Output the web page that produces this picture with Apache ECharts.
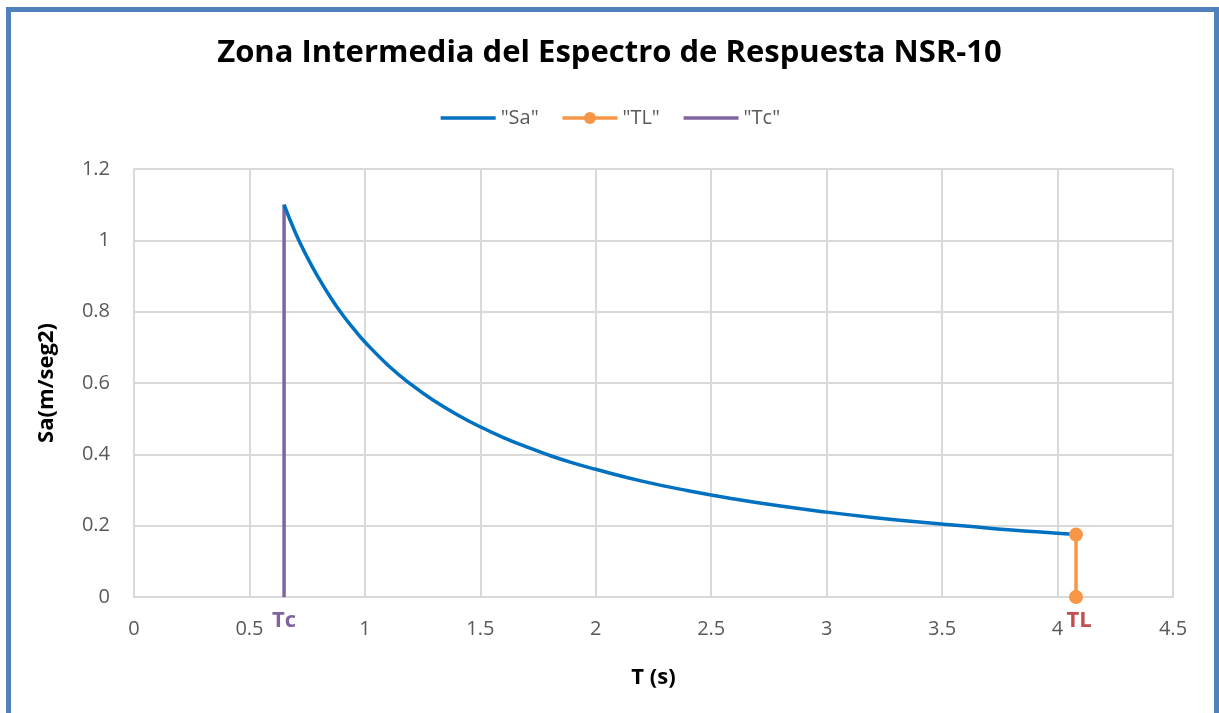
<!DOCTYPE html>
<html><head><meta charset="utf-8">
<script src="https://cdn.jsdelivr.net/npm/echarts@6/dist/echarts.min.js"></script>
<style>
html,body{margin:0;padding:0;background:#fff;}
#wrap{position:relative;width:1219px;height:713px;overflow:hidden;}
#frame{position:absolute;left:6px;top:7px;width:1203px;height:720px;border:5px solid #4F81BD;box-sizing:content-box;}
#chart{position:absolute;left:0;top:0;width:1219px;height:713px;}
</style></head>
<body><div id="wrap"><div id="frame"></div><div id="chart"></div></div>
<script>
const titleText = 'Zona Intermedia del Espectro de Respuesta NSR-10';
const seriesNames = ['"Sa"', '"TL"', '"Tc"'];
const saT = [0.65, 0.7, 0.75, 0.8, 0.85, 0.9, 0.95, 1.0, 1.1, 1.2, 1.3, 1.4, 1.5, 1.6, 1.7, 1.8, 1.9, 2.0, 2.2, 2.4, 2.6, 2.8, 3.0, 3.2, 3.4, 3.6, 3.8, 4.0, 4.08];
const saVal = [1.10, 1.02, 0.953, 0.894, 0.841, 0.794, 0.753, 0.715, 0.65, 0.596, 0.55, 0.511, 0.477, 0.447, 0.421, 0.397, 0.376, 0.358, 0.325, 0.298, 0.275, 0.255, 0.238, 0.223, 0.210, 0.199, 0.188, 0.179, 0.175];
const tlT = [4.08, 4.08];
const tlVal = [0.175, 0];
const tcT = [0.65, 0.65];
const tcVal = [1.10, 0];
const xTicks = {min: 0, max: 4.5, interval: 0.5};
const yTicks = {min: 0, max: 1.2, interval: 0.2};

const zip = (a, b) => a.map((v, i) => [v, b[i]]);
const font = '"Open Sans", "Liberation Sans", sans-serif';
const chart = echarts.init(document.getElementById('chart'), null, {renderer: 'canvas'});
chart.setOption({
  animation: false,
  textStyle: {fontFamily: font},
  title: {text: titleText, left: 'center', top: 33,
    textStyle: {fontFamily: font, fontWeight: 'bold', fontSize: 31, color: '#000'}},
  legend: {top: 103, left: 'center', itemWidth: 55, itemHeight: 15, itemGap: 22,
    textStyle: {fontFamily: font, fontSize: 20, color: '#595959'},
    lineStyle: {width: 3.5},
    data: [
      {name: seriesNames[0], itemStyle: {opacity: 0}},
      {name: seriesNames[1]},
      {name: seriesNames[2], itemStyle: {opacity: 0}}
    ]},
  grid: {left: 134, top: 169, right: 46, bottom: 116},
  xAxis: {type: 'value', min: xTicks.min, max: xTicks.max, interval: xTicks.interval,
    name: 'T (s)', nameLocation: 'middle', nameGap: 70,
    nameTextStyle: {fontFamily: font, fontWeight: 'bold', fontSize: 22, color: '#000'},
    axisLine: {show: true, lineStyle: {color: '#d9d9d9', width: 2}},
    axisTick: {show: false},
    axisLabel: {fontSize: 20, color: '#595959', margin: 22, formatter: v => String(v)},
    splitLine: {show: true, lineStyle: {color: '#d9d9d9', width: 2}}},
  yAxis: {type: 'value', min: yTicks.min, max: yTicks.max, interval: yTicks.interval,
    name: 'Sa(m/seg2)', nameLocation: 'middle', nameGap: 76, nameRotate: 90,
    nameTextStyle: {fontFamily: font, fontWeight: 'bold', fontSize: 22, color: '#000'},
    axisLine: {show: true, lineStyle: {color: '#d9d9d9', width: 2}},
    axisTick: {show: false},
    axisLabel: {fontSize: 20, color: '#595959', margin: 24, formatter: v => String(+v.toFixed(1))},
    splitLine: {show: true, lineStyle: {color: '#d9d9d9', width: 2}}},
  series: [
    {name: seriesNames[0], type: 'line', data: zip(saT, saVal), smooth: true, showSymbol: false,
      symbol: 'none', lineStyle: {color: '#0070C0', width: 3.5}, itemStyle: {color: '#0070C0'}, z: 3},
    {name: seriesNames[1], type: 'line', data: zip(tlT, tlVal).map((p, i) => i === 1 ? {value: p,
        label: {show: true, position: 'bottom', distance: 6, formatter: 'TL', fontFamily: font, fontWeight: 'bold', fontSize: 22, color: '#C0504D', offset: [3, 0]}} : {value: p}),
      symbol: 'circle', symbolSize: 14, showSymbol: true,
      lineStyle: {color: '#F79646', width: 3.5}, itemStyle: {color: '#F79646'}, z: 4},
    {name: seriesNames[2], type: 'line', data: zip(tcT, tcVal).map((p, i) => i === 1 ? {value: p,
        label: {show: true, position: 'bottom', distance: 12, formatter: 'Tc', fontFamily: font, fontWeight: 'bold', fontSize: 22, color: '#8064A2', offset: [0, 0]}} : {value: p}),
      symbol: 'circle', symbolSize: 1, showSymbol: true,
      lineStyle: {color: '#8064A2', width: 3.5}, itemStyle: {color: '#8064A2'}, z: 2}
  ]
});
</script></body></html>
